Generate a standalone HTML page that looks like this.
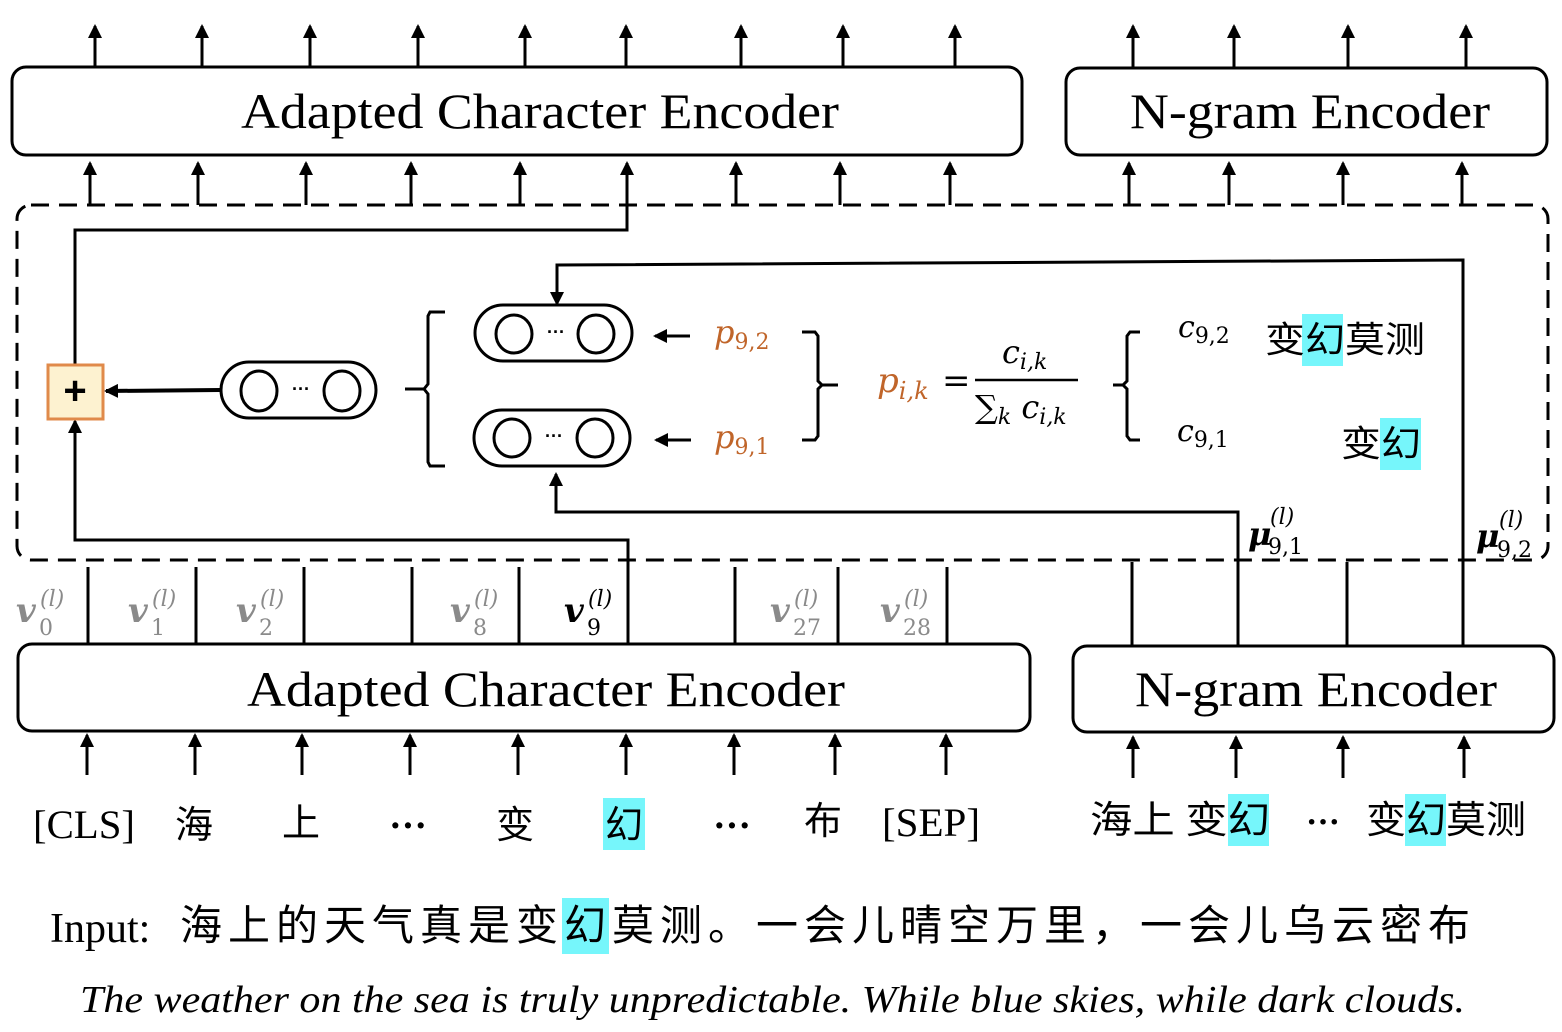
<!DOCTYPE html>
<html><head><meta charset="utf-8"><style>
html,body{margin:0;padding:0;background:#fff}
svg{display:block}
.s{font-family:"Liberation Serif","Noto Serif CJK SC",serif}
.c{font-family:"Liberation Serif","Noto Sans CJK SC",sans-serif}
.m{font-family:"DejaVu Serif","Liberation Serif",serif;font-style:italic}
</style></head><body>
<svg width="1562" height="1032" viewBox="0 0 1562 1032" xmlns="http://www.w3.org/2000/svg">
<defs>
<marker id="a" markerWidth="14" markerHeight="14" refX="12" refY="7" orient="auto" markerUnits="userSpaceOnUse">
<path d="M0,0 L14,7 L0,14 Z" fill="#000"/></marker>
</defs>
<g stroke="#000" stroke-width="3" fill="none">
<g marker-end="url(#a)">
<line x1="95" y1="67" x2="95" y2="26"/><line x1="202" y1="67" x2="202" y2="26"/><line x1="310" y1="67" x2="310" y2="26"/>
<line x1="418" y1="67" x2="418" y2="26"/><line x1="525" y1="67" x2="525" y2="26"/><line x1="626" y1="67" x2="626" y2="26"/>
<line x1="741" y1="67" x2="741" y2="26"/><line x1="843" y1="67" x2="843" y2="26"/><line x1="955" y1="67" x2="955" y2="26"/>
<line x1="1133" y1="68" x2="1133" y2="26"/><line x1="1234" y1="68" x2="1234" y2="26"/><line x1="1348" y1="68" x2="1348" y2="26"/><line x1="1466" y1="68" x2="1466" y2="26"/>
<line x1="90" y1="205" x2="90" y2="163"/><line x1="198" y1="205" x2="198" y2="163"/><line x1="306" y1="205" x2="306" y2="163"/>
<line x1="411" y1="205" x2="411" y2="163"/><line x1="520" y1="205" x2="520" y2="163"/>
<line x1="736" y1="205" x2="736" y2="163"/><line x1="840" y1="205" x2="840" y2="163"/><line x1="950" y1="205" x2="950" y2="163"/>
<line x1="1129" y1="205" x2="1129" y2="163"/><line x1="1229" y1="205" x2="1229" y2="163"/><line x1="1343" y1="205" x2="1343" y2="163"/><line x1="1462" y1="205" x2="1462" y2="163"/>
<polyline points="75,365 75,230 627,230 627,163"/>
<line x1="87" y1="775" x2="87" y2="735"/><line x1="195" y1="775" x2="195" y2="735"/><line x1="302" y1="775" x2="302" y2="735"/>
<line x1="410" y1="775" x2="410" y2="735"/><line x1="518" y1="775" x2="518" y2="735"/><line x1="626" y1="775" x2="626" y2="735"/>
<line x1="734" y1="775" x2="734" y2="735"/><line x1="835" y1="775" x2="835" y2="735"/><line x1="946" y1="775" x2="946" y2="735"/>
<line x1="1133" y1="778" x2="1133" y2="737"/><line x1="1236" y1="778" x2="1236" y2="737"/><line x1="1343" y1="778" x2="1343" y2="737"/><line x1="1464" y1="778" x2="1464" y2="737"/>
<polyline points="1463,645 1463,260 557,265 557,304"/>
<polyline points="1238,645 1238,512 556,512 556,474"/>
<polyline points="628,645 628,540 75,540 75,421"/>
<line x1="220" y1="390" x2="106" y2="391" stroke-width="4"/>
<line x1="690" y1="336" x2="655" y2="336"/>
<line x1="691" y1="440" x2="656" y2="440"/>
</g>
<rect x="12" y="67" width="1010" height="88" rx="14"/>
<rect x="1066" y="68" width="481" height="87" rx="14"/>
<rect x="17" y="205" width="1531" height="355" rx="14" stroke-dasharray="18,10"/>
<rect x="18" y="644" width="1012" height="87" rx="14"/>
<rect x="1073" y="646" width="481" height="86" rx="14"/>
<line x1="88" y1="567" x2="88" y2="644"/><line x1="196" y1="567" x2="196" y2="644"/><line x1="304" y1="567" x2="304" y2="644"/>
<line x1="412" y1="567" x2="412" y2="644"/><line x1="519" y1="567" x2="519" y2="644"/><line x1="735" y1="567" x2="735" y2="644"/>
<line x1="838" y1="567" x2="838" y2="644"/><line x1="947" y1="567" x2="947" y2="644"/>
<line x1="1132" y1="562" x2="1132" y2="646"/><line x1="1347" y1="562" x2="1347" y2="646"/>
<rect x="475" y="305" width="157" height="56" rx="28"/><ellipse cx="514" cy="334" rx="18" ry="19"/><ellipse cx="596" cy="334" rx="18" ry="19"/>
<rect x="474" y="410" width="156" height="56" rx="28"/><ellipse cx="512" cy="438" rx="18" ry="19"/><ellipse cx="595" cy="438" rx="18" ry="19"/>
<rect x="221" y="362" width="155" height="56" rx="28"/><ellipse cx="259" cy="391" rx="18" ry="20"/><ellipse cx="342" cy="391" rx="18" ry="20"/>
<path d="M445,312 L430,312 L428,316 L428,384 L424,389 L405,389 M424,389 L428,394 L428,462 L430,466 L445,466"/>
<path d="M802,332 L815,332 L818,336 L818,381 L822,385 L838,385 M822,385 L818,389 L818,436 L815,440 L802,440"/>
<path d="M1140,332 L1130,332 L1127,336 L1127,381 L1123,385 L1113,385 M1123,385 L1127,389 L1127,436 L1130,440 L1140,440"/>
<line x1="975" y1="380" x2="1078" y2="380" stroke-width="2.5"/>
</g>
<rect x="48" y="365" width="55" height="54" fill="#fdf2d0" stroke="#e08a4a" stroke-width="3"/>
<text x="75" y="404" font-size="40" font-weight="bold" text-anchor="middle" font-family="Liberation Sans,sans-serif">+</text>
<g font-family="Liberation Sans,sans-serif" font-size="18" font-weight="bold" text-anchor="middle">
<text x="556" y="338">···</text><text x="554" y="442">···</text><text x="301" y="395">···</text></g>
<g fill="#76f6fb">
<rect x="1302" y="314" width="41" height="52"/><rect x="1380" y="418" width="41" height="52"/>
<rect x="603" y="798" width="42" height="52"/><rect x="1228" y="794" width="41" height="52"/><rect x="1405" y="794" width="41" height="52"/>
<rect x="562" y="898" width="47" height="56"/></g>
<g class="s" font-size="50" text-anchor="middle">
<text x="540" y="128" textLength="598" lengthAdjust="spacingAndGlyphs">Adapted Character Encoder</text>
<text x="1310" y="128" textLength="360" lengthAdjust="spacingAndGlyphs">N-gram Encoder</text>
<text x="546" y="706" textLength="598" lengthAdjust="spacingAndGlyphs">Adapted Character Encoder</text>
<text x="1316" y="706" textLength="362" lengthAdjust="spacingAndGlyphs">N-gram Encoder</text>
</g>
<g class="c" font-size="36">
<text x="1265" y="352" textLength="160" lengthAdjust="spacingAndGlyphs">变幻莫测</text>
<text x="1341" y="456" textLength="80" lengthAdjust="spacingAndGlyphs">变幻</text>
</g>
<g class="s" font-size="40">
<text x="33" y="838" textLength="102" lengthAdjust="spacingAndGlyphs">[CLS]</text>
<text x="882" y="836" textLength="98" lengthAdjust="spacingAndGlyphs">[SEP]</text>
</g>
<g class="c" font-size="38" text-anchor="middle">
<text x="194" y="838">海</text><text x="301" y="836">上</text><text x="515" y="838">变</text><text x="624" y="838">幻</text><text x="823" y="834">布</text>
<text x="408" y="838" font-weight="bold">···</text><text x="732" y="838" font-weight="bold">···</text>
</g>
<g class="c" font-size="38">
<text x="1090" y="833" textLength="180" lengthAdjust="spacingAndGlyphs">海上 变幻</text>
<text x="1306" y="833" font-weight="bold" font-size="34">···</text>
<text x="1366" y="833" textLength="160" lengthAdjust="spacingAndGlyphs">变幻莫测</text>
</g>
<text class="s" x="50" y="942" font-size="42">Input:</text>
<text class="c" x="180" y="940" font-size="42" textLength="1290" lengthAdjust="spacing">海上的天气真是变幻莫测。一会儿晴空万里，一会儿乌云密布</text>
<text class="s" x="80" y="1012" font-size="38" font-style="italic" textLength="1385" lengthAdjust="spacingAndGlyphs">The weather on the sea is truly unpredictable. While blue skies, while dark clouds.</text>
<g class="m" fill="#c0652a">
<text x="714" y="343" font-size="32">p<tspan font-size="22" font-style="normal" dy="6">9,2</tspan></text>
<text x="714" y="448" font-size="32">p<tspan font-size="22" font-style="normal" dy="6">9,1</tspan></text>
<text x="877" y="392" font-size="34">p<tspan font-size="24" dy="7">i,k</tspan></text>
</g>
<g class="m" fill="#000">
<text x="942" y="392" font-size="34" font-style="normal">=</text>
<text x="1002" y="363" font-size="32">c<tspan font-size="22" dy="6">i,k</tspan></text>
<text x="975" y="418" font-size="32" font-style="normal">∑<tspan font-size="22" font-style="italic" dy="6">k</tspan><tspan font-style="italic" dy="-6"> c</tspan><tspan font-size="22" font-style="italic" dy="6">i,k</tspan></text>
<text x="1178" y="337" font-size="30">c<tspan font-size="22" font-style="normal" dy="6">9,2</tspan></text>
<text x="1177" y="441" font-size="30">c<tspan font-size="22" font-style="normal" dy="6">9,1</tspan></text>
<text x="1248" y="545" font-size="32" font-weight="bold">μ</text><text x="1268" y="554" font-size="22" font-style="normal">9,1</text><text x="1270" y="524" font-size="22">(l)</text>
<text x="1476" y="547" font-size="32" font-weight="bold">μ</text><text x="1497" y="557" font-size="22" font-style="normal">9,2</text><text x="1499" y="527" font-size="22">(l)</text>
</g>
<g class="m" font-weight="bold" font-size="34">
<g fill="#8a8a8a">
<text x="16" y="622">v</text><text x="39" y="635" font-size="22" font-weight="normal" font-style="normal">0</text><text x="40" y="606" font-size="22" font-weight="normal">(l)</text>
<text x="128" y="622">v</text><text x="151" y="635" font-size="22" font-weight="normal" font-style="normal">1</text><text x="152" y="606" font-size="22" font-weight="normal">(l)</text>
<text x="236" y="622">v</text><text x="259" y="635" font-size="22" font-weight="normal" font-style="normal">2</text><text x="260" y="606" font-size="22" font-weight="normal">(l)</text>
<text x="450" y="622">v</text><text x="473" y="635" font-size="22" font-weight="normal" font-style="normal">8</text><text x="474" y="606" font-size="22" font-weight="normal">(l)</text>
<text x="770" y="622">v</text><text x="793" y="635" font-size="22" font-weight="normal" font-style="normal">27</text><text x="794" y="606" font-size="22" font-weight="normal">(l)</text>
<text x="880" y="622">v</text><text x="903" y="635" font-size="22" font-weight="normal" font-style="normal">28</text><text x="904" y="606" font-size="22" font-weight="normal">(l)</text>
</g>
<text x="564" y="622" fill="#000">v</text><text x="587" y="635" font-size="22" font-weight="normal" font-style="normal">9</text><text x="588" y="606" font-size="22" font-weight="normal">(l)</text>
</g>
</svg>
</body></html>
